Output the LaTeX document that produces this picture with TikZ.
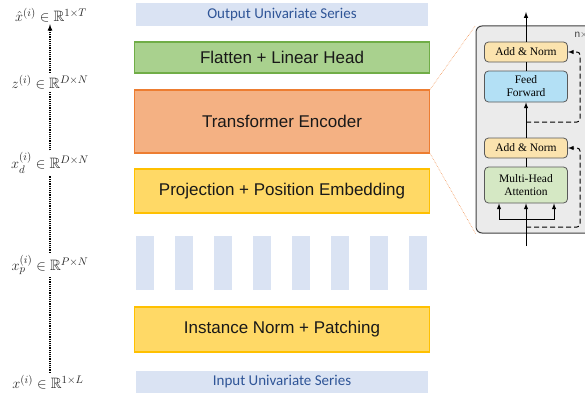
\documentclass[tikz,border=0pt]{standalone}
\usepackage{amssymb}
\usepackage{fontspec}
\newfontfamily\boxfont{Liberation Sans}
\newfontfamily\barfont{Carlito}
\newfontfamily\blockfont{Liberation Serif}
\definecolor{barblue}{HTML}{DAE3F3}
\definecolor{bartext}{HTML}{2F5597}
\definecolor{headfill}{HTML}{A9D18E}
\definecolor{headline}{HTML}{70AD47}
\definecolor{encfill}{HTML}{F4B183}
\definecolor{encline}{HTML}{ED7D31}
\definecolor{embfill}{HTML}{FFD966}
\definecolor{embline}{HTML}{FFC000}
\definecolor{panelfill}{HTML}{EBEBEB}
\definecolor{normfill}{HTML}{FBE3AE}
\definecolor{fffill}{HTML}{B3E0F5}
\definecolor{mhafill}{HTML}{D5E8C4}
\begin{document}
\begin{tikzpicture}[x=1pt,y=-1pt]
    \tikzset{>=latex}
    \tikzset{
        stage/.style={draw, line width=1.5pt, minimum width=295pt, inner sep=0pt,
            font=\boxfont\fontsize{17}{20}\selectfont, text=black!90},
        series/.style={fill=barblue, minimum width=292pt, inner sep=0pt,
            font=\barfont\fontsize{15}{18}\selectfont, text=bartext},
        patch/.style={fill=barblue, minimum width=18pt, minimum height=54pt, inner sep=0pt},
        dim/.style={font=\fontsize{15}{18}\selectfont, text=black!85, inner sep=2pt},
        block/.style={draw=black!65, line width=0.8pt, rounded corners=4pt, minimum width=83pt,
            inner sep=0pt, align=center, font=\blockfont\fontsize{11.5}{13}\selectfont},
        res/.style={->, line width=1pt, dash pattern=on 5pt off 3pt, rounded corners=3pt},
        zoomline/.style={encline!80, densely dotted, line width=0.6pt}
    }
    \useasboundingbox (0,0) rectangle (585,396);
    \clip (0,0) rectangle (585,396);
    \node[series, minimum height=23pt] (out) at (282,14.5) {Output Univariate Series};
    \node[stage, fill=headfill, draw=headline, minimum height=31pt] (head) at (282,57.5) {Flatten + Linear Head};
    \node[stage, fill=encfill, draw=encline, minimum height=63pt] (enc) at (282,121.5) {Transformer Encoder};
    \node[stage, fill=embfill, draw=embline, minimum height=44pt] (emb) at (282,191) {Projection + Position Embedding};
    \foreach \i in {0,...,7}
        \node[patch] (p\i) at (145+\i*39,263) {};
    \node[stage, fill=embfill, draw=embline, minimum height=45pt] (norm) at (282,329.5) {Instance Norm + Patching};
    \node[series, minimum height=22pt] (in) at (282,382) {Input Univariate Series};

    \node[dim] (xhat) at (51,15) {$\hat{x}^{(i)} \in \mathbb{R}^{1\times T}$};
    \node[dim] (z) at (50,82) {$z^{(i)} \in \mathbb{R}^{D\times N}$};
    \node[dim] (xd) at (50,163) {$x_d^{(i)} \in \mathbb{R}^{D\times N}$};
    \node[dim] (xp) at (50,265) {$x_p^{(i)} \in \mathbb{R}^{P\times N}$};
    \node[dim] (x) at (48,382) {$x^{(i)} \in \mathbb{R}^{1\times L}$};
    \draw[densely dotted, line width=1.2pt] (x.north -| z) -- (xp.south -| z);
    \draw[densely dotted, line width=1.2pt] (xp.north -| z) -- (xd.south -| z);
    \draw[densely dotted, line width=1.2pt] (xd) -- (z);
    \draw[densely dotted, line width=1.2pt, ->] (z) -- (xhat.south -| z);

    \node[draw=black!75, fill=panelfill, line width=1pt, rounded corners=6pt,
        minimum width=124pt, minimum height=207pt] (panel) at (538,129.5) {};
    \draw[zoomline] (enc.north east) -- (panel.north west);
    \draw[zoomline] (enc.south east) -- (panel.south west);
    \node[anchor=west, font=\boxfont\fontsize{10}{12}\selectfont, text=black!75] (rep) at (571,35) {n$\times$};
    \coordinate (blkin) at (526,246);
    \coordinate (split) at (526,219);
    \coordinate (blkout) at (526,12);
    \coordinate (r1) at (526,227);
    \coordinate (r2) at (526,122);
    \node[block, fill=normfill, minimum height=20pt] (an2) at (526,52) {Add \& Norm};
    \node[block, fill=fffill, minimum height=31pt] (ff) at (526,86.5) {Feed\\Forward};
    \node[block, fill=normfill, minimum height=20pt] (an1) at (526,148) {Add \& Norm};
    \node[block, fill=mhafill, minimum height=36pt] (mha) at (526,185) {Multi-Head\\Attention};
    \draw[->, line width=1pt] (blkin) -- (mha.south);
    \draw[->, line width=1pt] (split) -| ([xshift=-27pt]mha.south);
    \draw[->, line width=1pt] (split) -| ([xshift=28pt]mha.south);
    \draw[line width=1pt] (mha) -- (an1);
    \draw[->, line width=1pt] (an1) -- (ff);
    \draw[line width=1pt] (ff) -- (an2);
    \draw[->, line width=1pt] (an2) -- (blkout);
    \draw[res] (r1) -- ++(54,0) |- (an1.east);
    \draw[res] (r2) -- ++(54,0) |- (an2.east);
\end{tikzpicture}
\end{document}
